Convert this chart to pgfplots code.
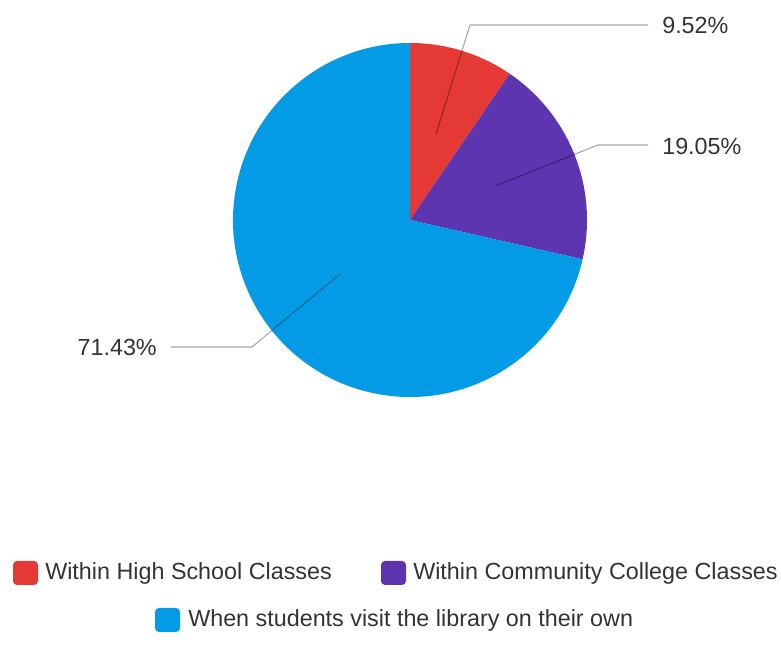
\documentclass[border=0pt]{standalone}
\usepackage{pgfplots}
\pgfplotsset{compat=1.18}
\usepackage{fontspec}
\setmainfont{Liberation Sans}
\definecolor{hsred}{HTML}{E53935}
\definecolor{ccpurple}{HTML}{5E35B1}
\definecolor{ownblue}{HTML}{039BE5}
\definecolor{txt}{HTML}{333333}
\begin{document}
\begin{tikzpicture}
\begin{axis}[
  scale only axis, width=585.75pt, height=492pt,
  xmin=0, xmax=781, ymin=0, ymax=656,
  hide axis, clip=false,
]
\pgfplotsextra{
  \path (axis cs:0,0) rectangle (axis cs:781,656);
  % pie: values in percent, drawn clockwise from 12 o'clock
  \xdef\startang{90}
  \foreach \v/\c in {9.52/hsred, 19.05/ccpurple, 71.43/ownblue}{
    \pgfmathsetmacro\endang{\startang-3.6*\v}
    \fill[\c] (axis cs:410,436) -- ++(\startang:132.75pt)
      arc[start angle=\startang, end angle=\endang, radius=132.75pt] -- cycle;
    \xdef\startang{\endang}
  }
  % leader lines
  \draw[black, opacity=0.35, line width=0.8pt] (axis cs:436,522) -- (axis cs:470,631) -- (axis cs:648,631);
  \draw[black, opacity=0.35, line width=0.8pt] (axis cs:495,470) -- (axis cs:598,511) -- (axis cs:648,511);
  \draw[black, opacity=0.35, line width=0.8pt] (axis cs:340,382) -- (axis cs:252,309) -- (axis cs:171,309);
  % labels
  \node[anchor=west, text=txt, font=\fontsize{17.5pt}{20pt}\selectfont, inner sep=0pt] at (axis cs:662,631) {9.52\%};
  \node[anchor=west, text=txt, font=\fontsize{17.5pt}{20pt}\selectfont, inner sep=0pt] at (axis cs:662,510) {19.05\%};
  \node[anchor=east, text=txt, font=\fontsize{17.5pt}{20pt}\selectfont, inner sep=0pt] at (axis cs:157,309) {71.43\%};
  % legend
  \fill[hsred, rounded corners=3pt] (axis cs:13,71) rectangle (axis cs:38,95);
  \node[anchor=west, text=txt, font=\fontsize{17.5pt}{20pt}\selectfont, inner sep=0pt] at (axis cs:45,83) {Within High School Classes};
  \fill[ccpurple, rounded corners=3pt] (axis cs:381,71) rectangle (axis cs:406,95);
  \node[anchor=west, text=txt, font=\fontsize{17.5pt}{20pt}\selectfont, inner sep=0pt] at (axis cs:413,83) {Within Community College Classes};
  \fill[ownblue, rounded corners=3pt] (axis cs:155,24) rectangle (axis cs:180,48);
  \node[anchor=west, text=txt, font=\fontsize{17.5pt}{20pt}\selectfont, inner sep=0pt] at (axis cs:188,36) {When students visit the library on their own};
}
\end{axis}
\end{tikzpicture}
\end{document}
